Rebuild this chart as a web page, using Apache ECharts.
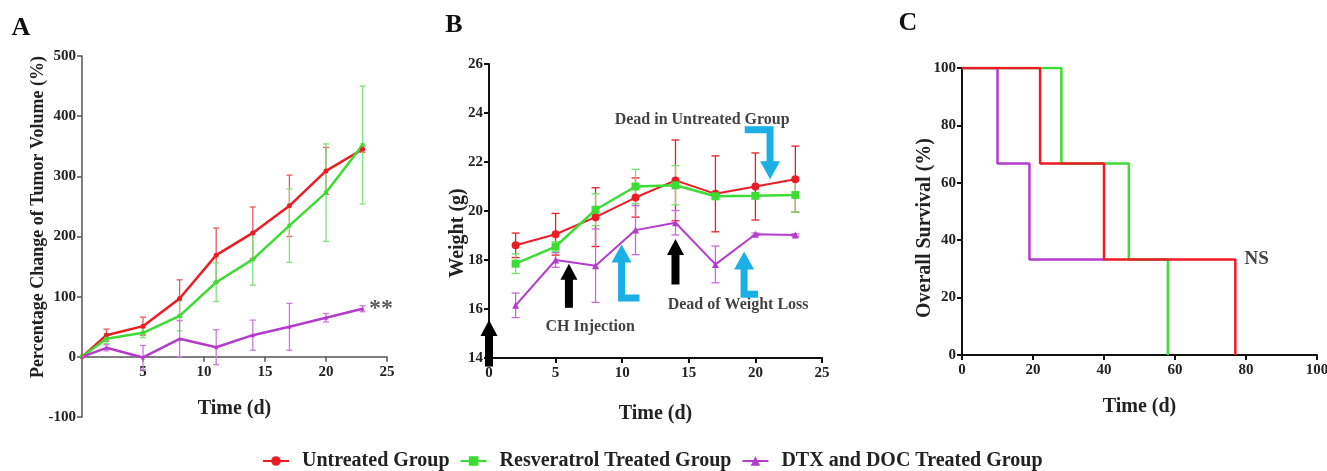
<!DOCTYPE html>
<html>
<head>
<meta charset="utf-8">
<script src="https://cdn.jsdelivr.net/npm/echarts@6/dist/echarts.min.js"></script>
<style>
  html, body { margin: 0; padding: 0; background: #fff; }
  #chart { width: 1327px; height: 471px; }
</style>
</head>
<body>
<div id="chart"></div>
<script>
// names
const groups = ['Untreated Group', 'Resveratrol Treated Group', 'DTX and DOC Treated Group']

// A: tumor volume change (%)
const daysA = [0, 2, 5, 8, 11, 14, 17, 20, 23]
const tumorUntreated = [0, 36, 51, 97, 169, 206, 251, 309, 345]
const tumorUntreatedErr = [0, 10, 15, 31, 45, 43, 51, 39, 5]
const tumorResv = [0, 30, 40, 68, 124, 162, 218, 273, 352]
const tumorResvErr = [0, 8, 8, 25, 32, 43, 61, 81, 98]
const tumorDtx = [0, 15, -1, 30, 16, 36, 50, 65, 80]
const tumorDtxErr = [0, 5, 20, 30, 29, 25, 39, 7, 5]

// B: weight (g)
const daysB = [2, 5, 8, 11, 14, 17, 20, 23]
const weightUntreated = [18.6, 19.05, 19.75, 20.55, 21.25, 20.7, 21.0, 21.3]
const weightUntreatedErr = [0.5, 0.85, 1.2, 0.8, 1.65, 1.55, 1.37, 1.35]
const weightResv = [17.85, 18.55, 20.05, 21.0, 21.05, 20.6, 20.62, 20.65]
const weightResvErr = [0.4, 0.2, 0.65, 0.7, 0.8, 0.1, 0.1, 0.7]
const weightDtx = [16.15, 18.0, 17.77, 19.22, 19.52, 17.82, 19.05, 19.02]
const weightDtxErr = [0.5, 0.3, 1.5, 1.0, 0.5, 0.75, 0.05, 0.05]

// B annotations (data units, last point = arrow tip)
const blackArrows = [
  [[0, 13.65], [0, 15.55]],
  [[6, 16.05], [6, 17.85]],
  [[14, 17.0], [14, 18.86]]
]
const blueArrows = [
  [[11.3, 16.45], [9.95, 16.45], [9.95, 18.63]],
  [[20.2, 16.6], [19.15, 16.6], [19.15, 18.35]],
  [[19.2, 23.32], [21.1, 23.32], [21.1, 21.3]]
]
const notesB = [
  { name: 'Dead in Untreated Group', value: [16.0, 23.73] },
  { name: 'CH Injection', value: [7.6, 15.27] },
  { name: 'Dead of Weight Loss', value: [18.7, 16.15] }
]

// C: survival (%)
const survUntreatedT = [0, 22, 40, 77]
const survUntreatedP = [100, 66.7, 33.3, 0]
const survResvT = [0, 28, 47, 58]
const survResvP = [100, 66.7, 33.3, 0]
const survDtxT = [0, 10, 19, 40]
const survDtxP = [100, 66.7, 33.3, 33.3]

const RED = '#ec1c24'
const GREEN = '#3ddc34'
const PURPLE = '#b43ccc'
const BLUE = '#1ab0e6'
const serif = '"Liberation Serif", "Times New Roman", serif'

const zip = (xs, ys) => xs.map((x, i) => [x, ys[i]])
const errData = (xs, ys, es) => xs.map((x, i) => [x, ys[i] - es[i], ys[i] + es[i]])

const errorBars = (name, idx, data, color, cap) => ({
  name,
  type: 'custom',
  xAxisIndex: idx,
  yAxisIndex: idx,
  z: 1,
  encode: { x: 0, y: [1, 2] },
  data,
  renderItem: (params, api) => {
    const x = api.value(0)
    const lo = api.coord([x, api.value(1)])
    const hi = api.coord([x, api.value(2)])
    const style = { stroke: color, lineWidth: 1.3 }
    return {
      type: 'group',
      children: [
        { type: 'line', shape: { x1: lo[0], y1: lo[1], x2: hi[0], y2: hi[1] }, style },
        { type: 'line', shape: { x1: hi[0] - cap, y1: hi[1], x2: hi[0] + cap, y2: hi[1] }, style },
        { type: 'line', shape: { x1: lo[0] - cap, y1: lo[1], x2: lo[0] + cap, y2: lo[1] }, style }
      ]
    }
  }
})

// thick arrows drawn through the axis scale
const arrowSeries = (name, arrows, color, shaft, headW, headL) => ({
  name,
  type: 'custom',
  xAxisIndex: 1,
  yAxisIndex: 1,
  z: 5,
  clip: false,
  encode: { x: 0, y: 1 },
  data: arrows.map((a, i) => [a[a.length - 1][0], a[a.length - 1][1], i]),
  renderItem: (params, api) => {
    const pts = arrows[api.value(2)].map(p => api.coord(p))
    const tip = pts[pts.length - 1]
    const prev = pts[pts.length - 2]
    const dx = tip[0] - prev[0]
    const dy = tip[1] - prev[1]
    const len = Math.hypot(dx, dy)
    const ux = dx / len, uy = dy / len
    const base = [tip[0] - ux * headL, tip[1] - uy * headL]
    const px = -uy * headW / 2, py = ux * headW / 2
    const shaftPts = pts.slice(0, -1).concat([[base[0] + ux, base[1] + uy]])
    return {
      type: 'group',
      children: [
        { type: 'polyline', shape: { points: shaftPts }, style: { stroke: color, lineWidth: shaft, fill: null, lineJoin: 'miter' } },
        { type: 'polygon', shape: { points: [tip, [base[0] + px, base[1] + py], [base[0] - px, base[1] - py]] }, style: { fill: color } }
      ]
    }
  }
})

const lineSeries = (name, idx, data, color, symbol, size, width) => ({
  name,
  type: 'line',
  xAxisIndex: idx,
  yAxisIndex: idx,
  z: 3,
  data,
  symbol,
  symbolSize: size,
  itemStyle: { color },
  lineStyle: { color, width },
  emphasis: { disabled: true }
})

const stepSeries = (name, data, color) => ({
  name,
  type: 'line',
  xAxisIndex: 2,
  yAxisIndex: 2,
  step: 'end',
  data,
  showSymbol: false,
  symbol: 'none',
  itemStyle: { color },
  lineStyle: { color, width: 2.5 },
  emphasis: { disabled: true }
})

const axisText = { fontFamily: serif, fontWeight: 'bold', fontSize: 15, color: '#222' }
const nameText = { fontFamily: serif, fontWeight: 'bold', fontSize: 20, color: '#222' }

const xAxisCommon = (idx, min, max, interval, color, width, extra) => Object.assign({
  gridIndex: idx,
  type: 'value',
  position: 'bottom',
  min, max, interval,
  name: 'Time (d)',
  nameLocation: 'middle',
  nameTextStyle: nameText,
  splitLine: { show: false },
  axisLine: { show: true, onZero: false, lineStyle: { color, width } },
  axisTick: { show: true, length: 5, lineStyle: { color, width } },
  axisLabel: Object.assign({ margin: 8 }, axisText)
}, extra)

const yAxisCommon = (idx, min, max, interval, color, width) => ({
  gridIndex: idx,
  type: 'value',
  min, max, interval,
  splitLine: { show: false },
  axisLine: { show: true, onZero: false, lineStyle: { color, width } },
  axisTick: { show: true, length: 5, lineStyle: { color, width } },
  axisLabel: Object.assign({ margin: 6 }, axisText)
})

const myChart = echarts.init(document.getElementById('chart'))

const gridA = { left: 82, top: 56, width: 305, height: 361, outerBoundsMode: 'none' }

const option = {
  animation: false,
  backgroundColor: '#fff',
  grid: [
    gridA,
    { left: 489, top: 64, width: 333, height: 294, outerBoundsMode: 'none' },
    { left: 962, top: 68, width: 355, height: 287, outerBoundsMode: 'none' }
  ],
  xAxis: [
    // A's time axis sits on the zero line (-100..500 span, so 1/6 of the height up)
    xAxisCommon(0, 0, 25, 5, '#555', 1.5, {
      nameGap: 42,
      offset: -gridA.height / 6,
      axisLabel: Object.assign({ margin: 8, showMinLabel: false }, axisText)
    }),
    xAxisCommon(1, 0, 25, 5, '#111', 2, { nameGap: 46 }),
    xAxisCommon(2, 0, 100, 20, '#111', 2, { nameGap: 42 })
  ],
  yAxis: [
    yAxisCommon(0, -100, 500, 100, '#555', 1.5),
    yAxisCommon(1, 14, 26, 2, '#111', 2),
    yAxisCommon(2, 0, 100, 20, '#111', 2)
  ],
  legend: {
    bottom: 0,
    left: 262,
    padding: 0,
    itemWidth: 26,
    itemHeight: 12,
    itemGap: 10,
    data: groups,
    textStyle: { fontFamily: serif, fontWeight: 'bold', fontSize: 20, color: '#222', padding: [0, 0, 0, 8] }
  },
  graphic: [
    { type: 'text', x: 21, y: 28, style: { text: 'A', font: 'bold 26px ' + serif, fill: '#111', align: 'center', verticalAlign: 'middle' } },
    { type: 'text', x: 454, y: 25, style: { text: 'B', font: 'bold 26px ' + serif, fill: '#111', align: 'center', verticalAlign: 'middle' } },
    { type: 'text', x: 908, y: 23, style: { text: 'C', font: 'bold 26px ' + serif, fill: '#111', align: 'center', verticalAlign: 'middle' } },
    { type: 'text', x: 38, y: 217, rotation: Math.PI / 2, style: { text: 'Percentage Change of Tumor Volume (%)', font: 'bold 18px ' + serif, fill: '#222', align: 'center', verticalAlign: 'middle' } },
    { type: 'text', x: 458, y: 233, rotation: Math.PI / 2, style: { text: 'Weight (g)', font: 'bold 20px ' + serif, fill: '#222', align: 'center', verticalAlign: 'middle' } },
    { type: 'text', x: 925, y: 228, rotation: Math.PI / 2, style: { text: 'Overall Survival (%)', font: 'bold 20px ' + serif, fill: '#222', align: 'center', verticalAlign: 'middle' } }
  ],
  series: [
    // B first so the legend picks its markers
    lineSeries(groups[0], 1, zip(daysB, weightUntreated), RED, 'circle', 8, 2),
    lineSeries(groups[1], 1, zip(daysB, weightResv), GREEN, 'rect', 8, 2.5),
    lineSeries(groups[2], 1, zip(daysB, weightDtx), PURPLE, 'triangle', 7, 2),
    errorBars(groups[0], 1, errData(daysB, weightUntreated, weightUntreatedErr), RED, 4),
    errorBars(groups[1], 1, errData(daysB, weightResv, weightResvErr), '#6fe36a', 4),
    errorBars(groups[2], 1, errData(daysB, weightDtx, weightDtxErr), '#c66ad8', 4),

    // A
    lineSeries(groups[0], 0, zip(daysA, tumorUntreated), RED, 'circle', 5, 2.5),
    lineSeries(groups[1], 0, zip(daysA, tumorResv), GREEN, 'rect', 4, 2.5),
    lineSeries(groups[2], 0, zip(daysA, tumorDtx), PURPLE, 'triangle', 4, 2.5),
    errorBars(groups[0], 0, errData(daysA, tumorUntreated, tumorUntreatedErr), '#ee5a5e', 3),
    errorBars(groups[1], 0, errData(daysA, tumorResv, tumorResvErr), '#7fe47a', 3),
    errorBars(groups[2], 0, errData(daysA, tumorDtx, tumorDtxErr), '#cd7ade', 3),

    // C
    stepSeries(groups[2], zip(survDtxT, survDtxP), PURPLE),
    stepSeries(groups[1], zip(survResvT, survResvP), GREEN),
    stepSeries(groups[0], zip(survUntreatedT, survUntreatedP), RED),

    // annotations
    {
      name: 'sig',
      type: 'scatter',
      xAxisIndex: 0,
      yAxisIndex: 0,
      symbolSize: 0,
      data: [{ name: '**', value: [24.5, 80] }],
      label: { show: true, position: 'inside', formatter: '{b}', fontFamily: serif, fontWeight: 'bold', fontSize: 24, color: '#333' }
    },
    {
      name: 'ns',
      type: 'scatter',
      xAxisIndex: 2,
      yAxisIndex: 2,
      symbolSize: 0,
      data: [{ name: 'NS', value: [83, 33.3] }],
      label: { show: true, position: 'inside', formatter: '{b}', fontFamily: serif, fontWeight: 'bold', fontSize: 19, color: '#111' }
    },
    {
      name: 'notes',
      type: 'scatter',
      xAxisIndex: 1,
      yAxisIndex: 1,
      symbolSize: 0,
      data: notesB,
      label: { show: true, position: 'inside', formatter: '{b}', fontFamily: serif, fontWeight: 'bold', fontSize: 16, color: '#111' }
    },
    arrowSeries('black arrows', blackArrows, '#000', 8, 17, 16),
    arrowSeries('blue arrows', blueArrows, BLUE, 7, 20, 18)
  ]
}

myChart.setOption(option)
</script>
</body>
</html>
